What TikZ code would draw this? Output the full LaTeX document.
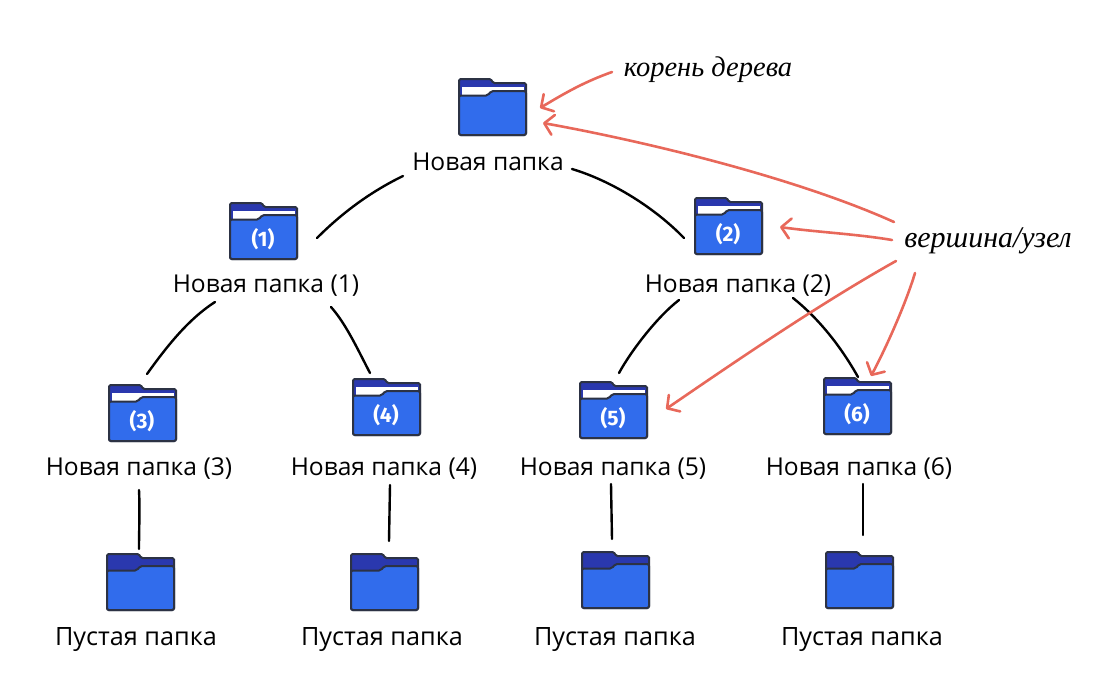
\documentclass[tikz,border=0pt]{standalone}
\usepackage{fontspec}
\setmainfont{Open Sans}
\newfontfamily\handfont{Liberation Serif}
\newfontfamily\numfont{Fira Sans}
\usetikzlibrary{arrows.meta}
\definecolor{folderblue}{HTML}{316CEC}
\definecolor{folderdark}{HTML}{2A38AE}
\definecolor{folderline}{HTML}{2C3244}
\definecolor{arrowred}{HTML}{E8685A}
\tikzset{
  x=1pt,y=-1pt,
  folderbox/.style={minimum width=69pt,minimum height=58pt,inner sep=0pt,outer sep=0pt},
  foldertext/.style={text=white,font=\numfont\fontsize{21}{24}\selectfont\bfseries,inner sep=0pt},
  caption/.style={font=\fontsize{24.6}{28}\selectfont,text=black,inner sep=0pt},
  emptycaption/.style={font=\fontsize{25.2}{28}\selectfont,text=black,inner sep=0pt},
  hand/.style={font=\handfont\itshape\fontsize{30}{34}\selectfont,text=black,inner sep=0pt},
  handsmall/.style={font=\handfont\itshape\fontsize{28.5}{34}\selectfont,text=black,inner sep=0pt},
  branch/.style={draw=black,line width=2.4pt,line cap=round},
  pointer/.style={draw=arrowred,line width=2.6pt,line cap=round,
    -{Straight Barb[length=9pt,width=20pt,line width=2.6pt,round]}},
  folderback/.style={fill=folderdark,draw=folderline,line width=2pt,rounded corners=1.5pt},
  folderfront/.style={fill=folderblue,draw=folderline,line width=2pt,rounded corners=2pt},
  folderpaper/.style={fill=white,draw=none},
}
% #1 name, #2 left, #3 top, #4 label
\newcommand{\paperfolder}[4]{%
  \node[folderbox] (#1) at (#2+34.5,#3+29) {};
  \begin{scope}[shift={(#2,#3)}]
    \path[folderback] (1,57) -- (1,1) -- (33,1) -- (35,5) -- (68,5) -- (68,57) -- cycle;
    \path[folderpaper] (4,9) rectangle (66,17);
    \path[folderfront] (1,57) -- (1,17.5) -- (30,17.5) -- (33,13) -- (68,13) -- (68,57) -- cycle;
    \node[foldertext] at (34,37) {#4};
  \end{scope}}
\newcommand{\plainfolder}[3]{%
  \node[folderbox] (#1) at (#2+34.5,#3+29) {};
  \begin{scope}[shift={(#2,#3)}]
    \path[folderback] (1,57) -- (1,1) -- (33,1) -- (35,5) -- (68,5) -- (68,57) -- cycle;
    \path[folderfront] (1,57) -- (1,17.5) -- (31,17.5) -- (34,13) -- (68,13) -- (68,57) -- cycle;
  \end{scope}}
\begin{document}
\begin{tikzpicture}
\useasboundingbox (0,0) rectangle (1100,686);
% folders
\paperfolder{f0}{458}{78}{}
\paperfolder{f1}{229}{202}{(1)}
\paperfolder{f2}{694}{197}{(2)}
\paperfolder{f3}{108}{384}{(3)}
\paperfolder{f4}{352}{378}{(4)}
\paperfolder{f5}{579}{381}{(5)}
\paperfolder{f6}{823}{377}{(6)}
\plainfolder{e3}{106}{553}
\plainfolder{e4}{350}{553}
\plainfolder{e5}{581}{551}
\plainfolder{e6}{825}{551}
% captions
\node[caption] (n0) at (488,162) {Новая папка};
\node[caption] (n1) at (266,286) {Новая папка (1)};
\node[caption] (n2) at (738,286) {Новая папка (2)};
\node[caption] (n3) at (139,469) {Новая папка (3)};
\node[caption] (n4) at (384,469) {Новая папка (4)};
\node[caption] (n5) at (613,469) {Новая папка (5)};
\node[caption] (n6) at (859,469) {Новая папка (6)};
\node[emptycaption] (c3) at (136,640) {Пустая папка};
\node[emptycaption] (c4) at (382,640) {Пустая папка};
\node[emptycaption] (c5) at (615,640) {Пустая папка};
\node[emptycaption] (c6) at (862,640) {Пустая папка};
\node[handsmall] (root) at (708,70) {корень дерева};
\node[hand] (vertex) at (988,241) {вершина/узел};
% branches
\path[branch] ([shift={(-85,14)}]n0.center) .. controls +(-35,17) and +(23,-23) .. ([shift={(53.5,7)}]f1.center);
\path[branch] ([shift={(84,7)}]n0.center) .. controls +(40,12) and +(-29,-30) .. ([shift={(-44.5,12)}]f2.center);
\path[branch] ([shift={(-51,16)}]n1.center) .. controls +(-28,18) and +(18,-25) .. ([shift={(4.5,-39)}]f3.center);
\path[branch] ([shift={(65,21)}]n1.center) .. controls +(15,17) and +(-13,-25) .. ([shift={(-16.5,-34)}]f4.center);
\path[branch] ([shift={(-59,14)}]n2.center) .. controls +(-22,17) and +(12,-22) .. ([shift={(5.5,-37)}]f5.center);
\path[branch] ([shift={(55,12)}]n2.center) .. controls +(25,20) and +(-18,-32) .. ([shift={(0.5,-29)}]f6.center);
\path[branch] ([shift={(0,21)}]n3.center) .. controls +(1,20) and +(0,-20) .. ([shift={(-1.5,-33)}]e3.center);
\path[branch] ([shift={(6,16)}]n4.center) -- ([shift={(4.5,-41)}]e4.center);
\path[branch] ([shift={(-2,15)}]n5.center) -- ([shift={(-3.5,-41)}]e5.center);
\path[branch] ([shift={(4,15)}]n6.center) -- ([shift={(3.5,-45)}]e6.center);
% pointers
\path[pointer] ([shift={(-96,2)}]root.center) .. controls +(-28,10) and +(25,-15) .. ([shift={(47.5,1)}]f0.center);
\path[pointer] ([shift={(-94,-19)}]vertex.center) .. controls +(-100,-45) and +(100,18) .. ([shift={(50.5,16)}]f0.center);
\path[pointer] ([shift={(-96,-1)}]vertex.center) .. controls +(-35,-6) and +(35,5) .. ([shift={(51.5,1)}]f2.center);
\path[pointer] ([shift={(-92,20)}]vertex.center) .. controls +(-75,42) and +(70,-48) .. ([shift={(52.5,-1)}]f5.center);
\path[pointer] ([shift={(-73,32)}]vertex.center) .. controls +(-9,30) and +(15,-28) .. ([shift={(13.5,-30)}]f6.center);
\end{tikzpicture}
\end{document}
